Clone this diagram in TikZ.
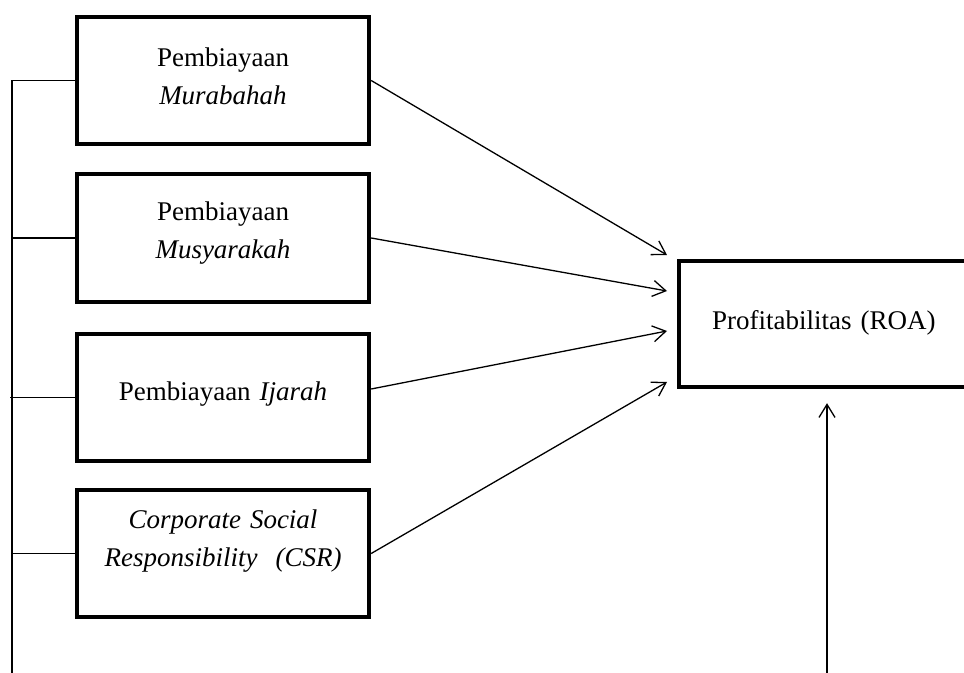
\documentclass[tikz,border=0pt]{standalone}
\usepackage{fontspec}
\setmainfont{Liberation Serif}
\usetikzlibrary{calc}
\usetikzlibrary{arrows.meta}
\tikzset{>={Straight Barb[length=6.5pt,width=8pt]}}
\tikzstyle{box}=[draw,line width=2.2pt,minimum width=146pt,minimum height=63.5pt,text width=130pt,align=center,text height=9pt,font=\fontsize{13.5pt}{18.8pt}\selectfont]
\tikzstyle{link}=[line width=0.65pt]
\tikzstyle{arr}=[link,->]

\begin{document}
\begin{tikzpicture}[x=0.5pt,y=-0.5pt]

  % page frame
  \clip (0,0) rectangle (964,673);

  % variable boxes
  \node[box,text depth=22.5pt] (mur) at (223,80.5)
    {Pembiayaan\\\textit{Murabahah}};
  \node[box,text depth=26.3pt,minimum height=64pt] (mus) at (223,238)
    {Pembiayaan\\\textit{Musyarakah}};
  \node[box,text depth=5.8pt] (ija) at (223,397.5)
    {Pembiayaan \textit{Ijarah}};
  \node[box,text depth=33.5pt] (csr) at (223,553.5)
    {\textit{Corporate Social}\\\textit{Responsibility\ \ (CSR)}};
  \node[box,anchor=west,minimum height=63pt,inner xsep=16.5pt,align=left,text depth=3pt] (roa) at (677,324)
    {Profitabilitas (ROA)};

  % left bus
  \coordinate (busend) at (12,673);
  \draw[link] (mur.west -| busend) -- (busend);
  \draw[link] (mur.west) -- (mur.west -| busend);
  \draw[link] (mus.west) -- (mus.west -| busend);
  \draw[link] (ija.west) -- ($(ija.west -| busend)+(-2,0)$);
  \draw[link] (csr.west) -- (csr.west -| busend);

  % arrows into ROA
  \coordinate (in1) at ($(roa.west)+(-10,-69)$);
  \coordinate (in2) at ($(roa.west)+(-10,-33)$);
  \coordinate (in3) at ($(roa.west)+(-10,7)$);
  \coordinate (in4) at ($(roa.west)+(-10,58)$);
  \draw[arr] (mur.east) -- (in1);
  \draw[arr] (mus.east) -- (in2);
  \draw[arr] ($(ija.east)+(0,-8.5)$) -- (in3);
  \draw[arr] (csr.east) -- (in4);

  % arrow from below
  \coordinate (ctrl) at (827,673);
  \draw[arr,shorten >=7pt] (ctrl) -- (ctrl |- roa.south);

\end{tikzpicture}
\end{document}
